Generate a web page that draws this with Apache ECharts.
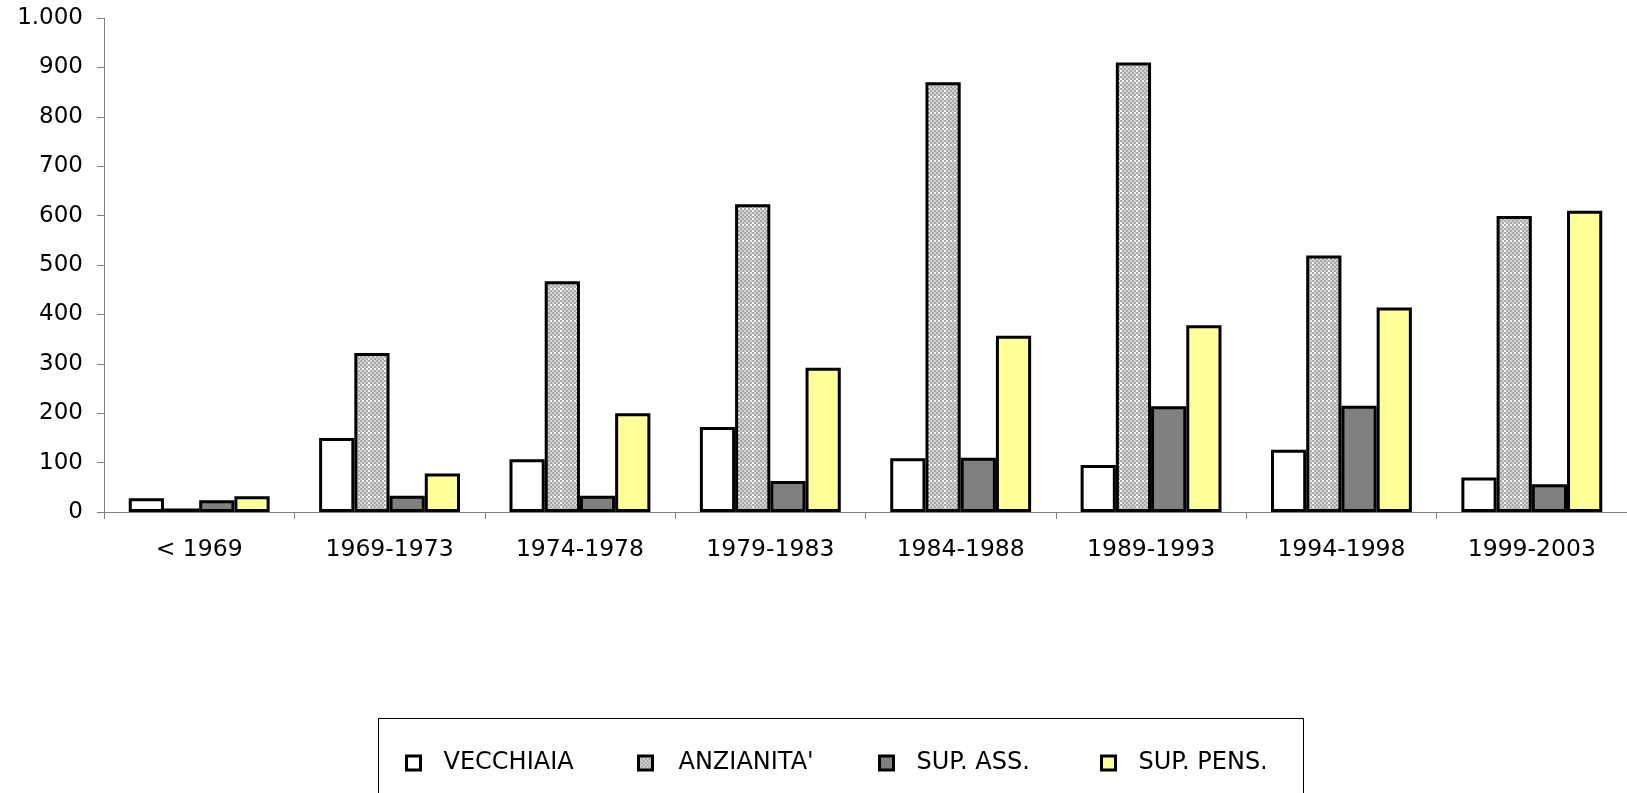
<!DOCTYPE html>
<html>
<head>
<meta charset="utf-8">
<script src="https://cdn.jsdelivr.net/npm/echarts@6/dist/echarts.min.js"></script>
<style>
html,body{margin:0;padding:0;background:#fff;}
#chart{width:1627px;height:793px;}
</style>
</head>
<body>
<div id="chart"></div>
<script>
const categories = ['< 1969','1969-1973','1974-1978','1979-1983','1984-1988','1989-1993','1994-1998','1999-2003'];
const seriesNames = ['VECCHIAIA', "ANZIANITA'", 'SUP. ASS.', 'SUP. PENS.'];
const vecchiaia = [28, 150, 107, 172, 109, 95, 126, 70];
const anzianita = [7, 322, 467, 623, 870, 910, 519, 599];
const supAss = [24, 33, 33, 63, 110, 214, 215, 56];
const supPens = [32, 78, 200, 292, 357, 378, 414, 610];
const yTicks = {min: 0, max: 1000, interval: 100};

function makeHatch() {
  const c = document.createElement('canvas');
  c.width = 16; c.height = 16;
  const g = c.getContext('2d');
  for (let by = 0; by < 8; by++) {
    for (let bx = 0; bx < 8; bx++) {
      let col = ((bx + by) % 2 === 0) ? '#a8a8a8' : '#d2d2d2';
      if ((by === 0 || bx === 0) && (bx + by) % 2 === 1) col = '#f4f4f4';
      g.fillStyle = col;
      g.fillRect(bx * 2, by * 2, 2, 2);
    }
  }
  return {image: c, repeat: 'repeat'};
}

const fills = ['#ffffff', makeHatch(), '#808080', '#ffff99'];
const dataSets = [vecchiaia, anzianita, supAss, supPens];
const legendLeft = [405, 637, 878, 1100];

const FONT = 'DejaVu Sans';

const chart = echarts.init(document.getElementById('chart'), null, {renderer: 'canvas'});

const option = {
  animation: false,
  backgroundColor: '#ffffff',
  textStyle: {fontFamily: FONT, color: '#000'},
  grid: {left: 104, top: 18, width: 1532, height: 494, containLabel: false},
  legend: seriesNames.map((n, i) => ({
    data: [n],
    left: legendLeft[i],
    top: 751,
    padding: 0,
    itemWidth: 14,
    itemHeight: 14,
    icon: 'rect',
    selectedMode: false,
    itemStyle: {borderColor: '#000', borderWidth: 3},
    textStyle: {fontFamily: FONT, fontSize: 24, color: '#000', padding: [0, 0, 0, i === 1 ? 21 : 18]}
  })),
  graphic: [{
    type: 'rect',
    shape: {x: 378.5, y: 718.5, width: 925, height: 120},
    style: {fill: 'none', stroke: '#000', lineWidth: 1},
    silent: true,
    z: 0
  }],
  xAxis: {
    type: 'category',
    data: categories,
    axisLine: {lineStyle: {color: '#808080', width: 1}},
    axisTick: {show: true, alignWithLabel: false, interval: 0, length: 7, lineStyle: {color: '#808080'}},
    axisLabel: {interval: 0, margin: 26, fontFamily: FONT, fontSize: 23.5, color: '#000'},
    splitLine: {show: false}
  },
  yAxis: {
    type: 'value',
    min: yTicks.min, max: yTicks.max, interval: yTicks.interval,
    axisLine: {show: true, lineStyle: {color: '#808080', width: 1}},
    axisTick: {show: true, length: 7, lineStyle: {color: '#808080'}},
    axisLabel: {
      margin: 21, fontFamily: FONT, fontSize: 23, color: '#000',
      formatter: v => String(v).replace(/\B(?=(\d{3})+(?!\d))/g, '.')
    },
    splitLine: {show: false}
  },
  series: seriesNames.map((n, i) => ({
    name: n,
    type: 'bar',
    data: dataSets[i],
    barGap: '0%',
    barCategoryGap: '26%',
    itemStyle: {color: fills[i], borderColor: '#000', borderWidth: 3},
    emphasis: {disabled: true}
  }))
};

chart.setOption(option);
</script>
</body>
</html>
